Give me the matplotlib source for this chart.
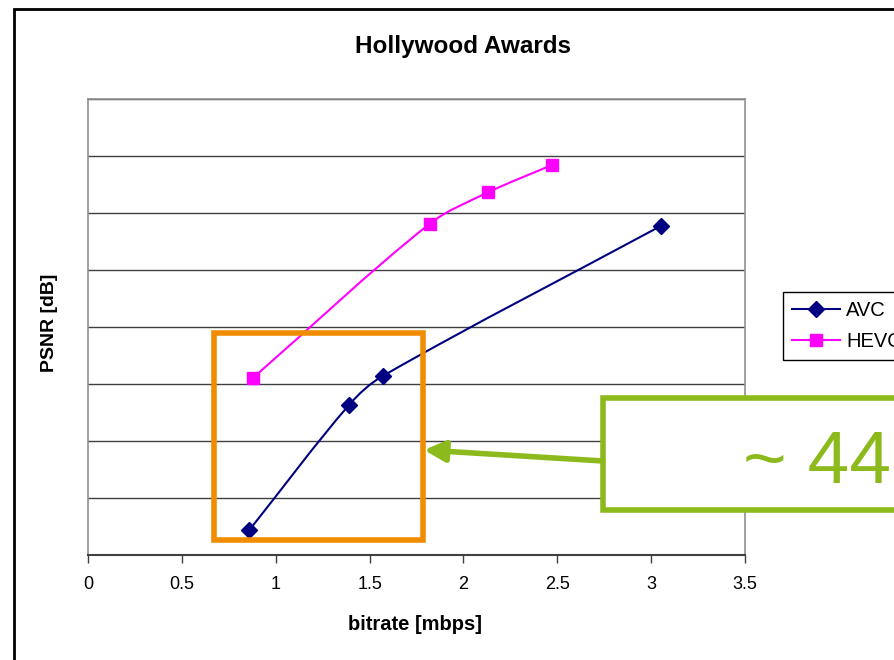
import matplotlib
matplotlib.use("Agg")
import matplotlib.pyplot as plt
from matplotlib.path import Path
from matplotlib.patches import PathPatch, Rectangle, FancyArrowPatch
from matplotlib.lines import Line2D
import numpy as np

# rate-distortion points read from the encoder runs
avc_rate = [0.86, 1.39, 1.57, 3.05]
avc_psnr = [33.44, 35.63, 36.14, 38.77]
hevc_rate = [0.88, 1.82, 2.13, 2.47]
hevc_psnr = [36.11, 38.81, 39.36, 39.84]

x_ticks = [0, 0.5, 1, 1.5, 2, 2.5, 3, 3.5]
x_tick_labels = ['0', '0.5', '1', '1.5', '2', '2.5', '3', '3.5']
y_grid = [33, 34, 35, 36, 37, 38, 39, 40, 41]

AVC_COL = '#000080'
HEVC_COL = '#ff00ff'
ORANGE = '#f08c00'
GREEN = '#8cba1c'

W, H = 894, 660
plt.rcParams['font.family'] = ['Liberation Sans', 'DejaVu Sans']


def smooth_path(xs, ys, sx=187.7, sy=57.0):
    # smoothed line: cubic bezier through every point, tangents taken
    # in screen-like units so short segments don't loop
    pts = np.column_stack([np.array(xs) * sx, np.array(ys) * sy])
    n = len(pts)
    dirs = []
    for i in range(n):
        d = pts[min(i + 1, n - 1)] - pts[max(i - 1, 0)]
        dirs.append(d / np.hypot(*d))
    verts = [pts[0]]
    codes = [Path.MOVETO]
    for i in range(n - 1):
        seg = np.hypot(*(pts[i + 1] - pts[i])) / 3.0
        verts += [pts[i] + dirs[i] * seg, pts[i + 1] - dirs[i + 1] * seg, pts[i + 1]]
        codes += [Path.CURVE4] * 3
    verts = np.array(verts) / [sx, sy]
    return Path(verts, codes)


def fx(px):
    return px / W


def fy(py):
    return 1 - py / H


fig = plt.figure(figsize=(W / 100, H / 100), dpi=100)
ax = fig.add_axes([fx(88), fy(555), fx(745) - fx(88), fy(99) - fy(555)])

ax.set_xlim(0, 3.5)
ax.set_ylim(33, 41)
ax.set_xticks(x_ticks)
ax.set_xticklabels(x_tick_labels, fontsize=13)
ax.set_yticks(y_grid)
ax.set_yticklabels([])
ax.tick_params(axis='y', length=0)
ax.tick_params(axis='x', direction='out', length=6, width=1, color='#404040', pad=9)
ax.grid(axis='y', color='#404040', lw=1)
ax.set_axisbelow(True)
for s in ['left', 'top', 'right']:
    ax.spines[s].set_color('#909090')
    ax.spines[s].set_linewidth(1.2)
ax.spines['bottom'].set_color('#404040')
ax.spines['bottom'].set_linewidth(1.5)

ax.add_patch(PathPatch(smooth_path(avc_rate, avc_psnr), fc='none', ec=AVC_COL, lw=1.5, zorder=3))
ax.add_patch(PathPatch(smooth_path(hevc_rate, hevc_psnr), fc='none', ec=HEVC_COL, lw=1.5, zorder=3))
ax.plot(avc_rate, avc_psnr, ls='none', marker='D', ms=8, color=AVC_COL, zorder=4, clip_on=False)
ax.plot(hevc_rate, hevc_psnr, ls='none', marker='s', ms=8, color=HEVC_COL, zorder=4, clip_on=False)

fig.text(fx(463), fy(46), 'Hollywood Awards', fontsize=17.5, fontweight='bold',
         ha='center', va='center')
fig.text(fx(415), fy(625), 'bitrate [mbps]', fontsize=14.5, fontweight='bold',
         ha='center', va='center')
fig.text(fx(50), fy(323), 'PSNR [dB]', fontsize=14, fontweight='bold',
         ha='center', va='center', rotation=90)

handles = [Line2D([], [], color=AVC_COL, lw=1.5, marker='D', ms=8),
           Line2D([], [], color=HEVC_COL, lw=1.5, marker='s', ms=8)]
fig.legend(handles, ['AVC', 'HEVC'], loc='upper left', bbox_to_anchor=(fx(783), fy(292)),
           borderaxespad=0, fontsize=14.5, frameon=True, fancybox=False, edgecolor='black',
           framealpha=1, handlelength=2.4, handletextpad=0.3, borderpad=0.45, labelspacing=0.6)

# orange highlight around the low-rate region
ax.add_patch(Rectangle((0.671, 33.26), 1.785 - 0.671, 36.89 - 33.26, fill=False,
                       ec=ORANGE, lw=4, zorder=5, clip_on=False))

# green callout box with arrow
fig.add_artist(Rectangle((fx(603), fy(510)), fx(W + 20) - fx(603), fy(398) - fy(510),
                         transform=fig.transFigure, fc='white', ec=GREEN, lw=4, zorder=6))
fig.text(fx(743), fy(483), '~ 44', transform=fig.transFigure, fontsize=54, color=GREEN,
         ha='left', va='baseline', zorder=7)
fig.add_artist(FancyArrowPatch((fx(603), fy(461)), (fx(424), fy(450)), transform=fig.transFigure,
                               arrowstyle='-|>,head_length=0.9,head_width=0.45', mutation_scale=14,
                               color=GREEN, lw=4, shrinkA=0, shrinkB=0, zorder=6))

# outer chart frame
fig.add_artist(Rectangle((fx(14), -0.1), 1.2, fy(9) + 0.1, transform=fig.transFigure,
                         fill=False, ec='black', lw=2))

fig.savefig('out.png', dpi=100)
